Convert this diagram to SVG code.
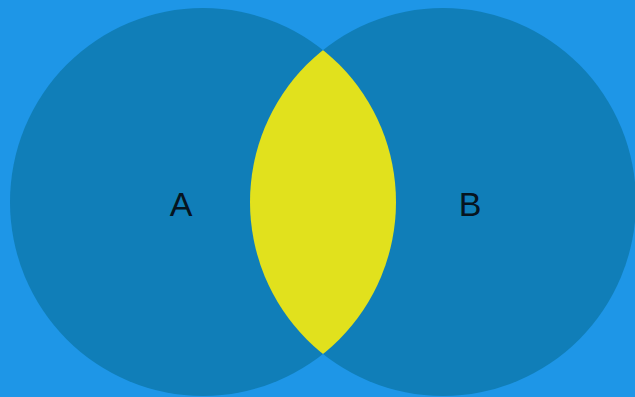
<svg xmlns="http://www.w3.org/2000/svg" width="635" height="397" viewBox="0 0 635 397">
  <style>
    .set { fill: #107eb8; }
    .lens { fill: #e1e11d; }
    .lbl { font-family: "Liberation Sans", Arial, sans-serif; font-size: 34px; fill: #061420; text-anchor: middle; }
  </style>
  <defs>
    <clipPath id="clipA">
      <ellipse cx="203" cy="202" rx="193" ry="194"/>
    </clipPath>
  </defs>
  <rect width="635" height="397" fill="#1e96e7"/>
  <g id="setA">
    <ellipse class="set" cx="203" cy="202" rx="193" ry="194"/>
    <text class="lbl" x="181" y="216">A</text>
  </g>
  <g id="setB">
    <ellipse class="set" cx="443" cy="202" rx="193" ry="194"/>
    <text class="lbl" x="470" y="216">B</text>
  </g>
  <g id="intersection">
    <ellipse class="lens" cx="443" cy="202" rx="193" ry="194" clip-path="url(#clipA)"/>
  </g>
  <g id="connectors"></g>
</svg>
